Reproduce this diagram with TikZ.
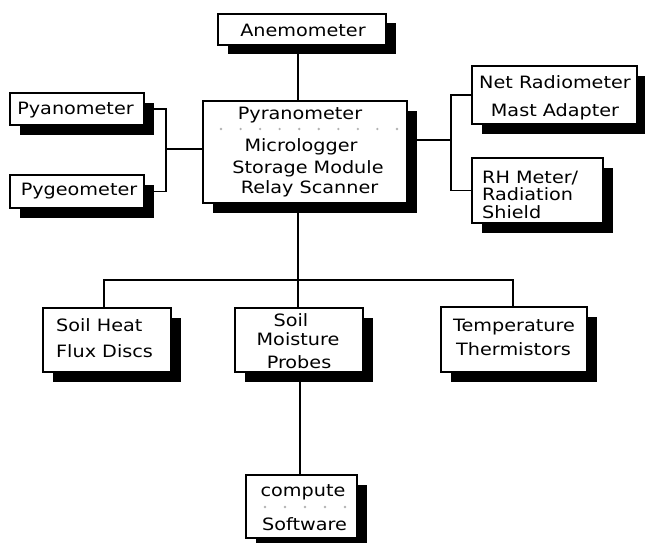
\documentclass[tikz,border=0pt]{standalone}
\usepackage{fontspec}
\newfontfamily\labfont[FakeStretch=1.13]{DejaVu Sans}
\usetikzlibrary{shadows,backgrounds}
\begin{document}
\begin{tikzpicture}[x=1pt,y=-1pt,
  boxst/.style={draw=black, line width=1.6pt, fill=white, rectangle, inner sep=0pt,
     drop shadow={shadow xshift=9.5pt, shadow yshift=-9.5pt, fill=black, opacity=1}},
  lbl/.style={font=\labfont\fontsize{17}{20}\selectfont, inner sep=0pt, anchor=base},
  lblw/.style={lbl, anchor=base west},
  conn/.style={line width=1.3pt, draw=black},
  sepdot/.style={fill=black!30}]
\useasboundingbox (0,0) rectangle (645,543);

% coordinates for connector routing
\coordinate (busx) at (298,0);
\coordinate (lowx) at (300,0);
\coordinate (lbx) at (166,0);
\coordinate (lmid) at (0,149);
\coordinate (rbx) at (451,0);
\coordinate (rmid) at (0,140);
\coordinate (bar) at (0,280);
\coordinate (hx) at (104,0);
\coordinate (tx) at (513,0);

% boxes
\node[boxst, minimum width=168pt, minimum height=31pt] (anem) at (302,29.5) {};
\node[boxst, minimum width=134pt, minimum height=32pt] (pyan) at (77,109) {};
\node[boxst, minimum width=134pt, minimum height=33pt] (pyge) at (77,191.5) {};
\node[boxst, minimum width=204pt, minimum height=102pt] (cent) at (305,152) {};
\node[boxst, minimum width=165pt, minimum height=58pt] (net) at (554.5,95) {};
\node[boxst, minimum width=131pt, minimum height=65pt] (rh) at (537.5,190.5) {};
\node[boxst, minimum width=128pt, minimum height=64pt] (heat) at (107,340) {};
\node[boxst, minimum width=128pt, minimum height=64pt] (moist) at (299,340) {};
\node[boxst, minimum width=146pt, minimum height=65pt] (temp) at (514,339.5) {};
\node[boxst, minimum width=111pt, minimum height=63pt] (comp) at (301.5,506.5) {};

% texts
\node[lbl] (tanem) at (303,36.5) {Anemometer};
\node[lbl] (tpyan) at (75.5,114.5) {Pyanometer};
\node[lbl] (tpyge) at (79,195.5) {Pygeometer};
\node[lbl] (tc1) at (300,119.5) {Pyranometer};
\node[lbl] (tc2) at (301,151.5) {Micrologger};
\node[lbl] (tc3) at (308,173.5) {Storage Module};
\node[lbl] (tc4) at (309.5,193.5) {Relay Scanner};
\node[lbl] (tn1) at (555,88.5) {Net Radiometer};
\node[lbl] (tn2) at (555,116.5) {Mast Adapter};
\node[lblw] (tr1) at (482,183.5) {RH Meter/};
\node[lblw] (tr2) at (482,200.5) {Radiation};
\node[lblw] (tr3) at (482,218.5) {Shield};
\node[lblw] (th1) at (56,331.5) {Soil Heat};
\node[lblw] (th2) at (56,357.5) {Flux Discs};
\node[lbl] (tm1) at (291,326) {Soil};
\node[lbl] (tm2) at (298,345.5) {Moisture};
\node[lbl] (tm3) at (299,368) {Probes};
\node[lbl] (tt1) at (514,331.5) {Temperature};
\node[lbl] (tt2) at (513.5,355) {Thermistors};
\node[lbl] (tk1) at (303,496) {compute};
\node[lbl] (tk2) at (304.5,530.5) {Software};

% separator dots
\foreach \i in {0,...,9} \fill[sepdot] (221+19.55*\i,129) circle (1.3pt);
\foreach \i in {0,...,4} \fill[sepdot] (265+20*\i,507) circle (1.3pt);

\begin{pgfonlayer}{background}
\fill[white] (0,0) rectangle (645,543);
\draw[conn] (anem.south -| busx) -- (cent.north -| busx);
\draw[conn] (pyan.east) -| (lbx |- pyge.east) -- (pyge.east);
\draw[conn] (lbx |- lmid) -- (cent.west |- lmid);
\draw[conn] (net.west) -| (rbx |- rh.west) -- (rh.west);
\draw[conn] (cent.east |- rmid) -- (rbx |- rmid);
\draw[conn] (cent.south -| busx) -- (moist.north -| busx);
\draw[conn] (heat.north -| hx) -- (hx |- bar) -- (tx |- bar) -- (temp.north -| tx);
\draw[conn] (moist.south -| lowx) -- (comp.north -| lowx);
\end{pgfonlayer}
\end{tikzpicture}
\end{document}
